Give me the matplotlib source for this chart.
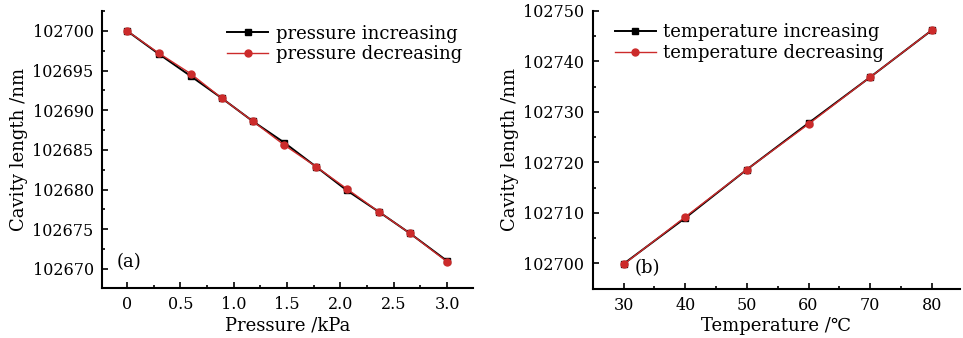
import matplotlib
matplotlib.use("Agg")
import matplotlib.pyplot as plt
from matplotlib.ticker import MultipleLocator, FormatStrFormatter

plt.rcParams['font.family'] = ['DejaVu Serif', 'DejaVu Sans']

# (a) pressure
pressure = [0, 0.297, 0.597, 0.89, 1.18, 1.475, 1.77, 2.06, 2.36, 2.65, 3.0]
p_increasing = [102700.0, 102697.1, 102694.3, 102691.5, 102688.6, 102685.9,
                102682.9, 102679.9, 102677.2, 102674.5, 102671.0]
p_decreasing = [102700.0, 102697.2, 102694.6, 102691.5, 102688.6, 102685.6,
                102682.9, 102680.1, 102677.2, 102674.5, 102670.9]

# (b) temperature
temperature = [30, 40, 50, 60, 70, 80]
t_increasing = [102699.9, 102709.0, 102718.6, 102727.8, 102736.9, 102746.2]
t_decreasing = [102699.8, 102709.2, 102718.6, 102727.6, 102736.9, 102746.2]

fig = plt.figure(figsize=(9.63, 3.38), dpi=100)
ax1 = fig.add_axes([0.1059, 0.148, 0.385, 0.8195])
ax2 = fig.add_axes([0.6155, 0.146, 0.381, 0.8215])

red = '#cc2b2b'
tfs = 11.5
lfs = 13
labfs = 13

def style(ax):
    for s in ['top', 'right']:
        ax.spines[s].set_visible(False)
    for s in ['left', 'bottom']:
        ax.spines[s].set_linewidth(1.5)
    ax.tick_params(which='both', direction='in', labelsize=tfs, width=1.2)
    ax.tick_params(which='major', length=4)
    ax.tick_params(which='minor', length=2.5)
    ax.tick_params(axis='y', pad=6)
    ax.tick_params(axis='x', pad=6)

ax1.plot(pressure, p_increasing, color='black', marker='s', ms=4.5, lw=1.4,
         label='pressure increasing')
ax1.plot(pressure, p_decreasing, color=red, marker='o', ms=5, lw=1.0,
         label='pressure decreasing')
ax1.set_xlim(-0.234, 3.24)
ax1.set_ylim(102667.6, 102702.5)
ax1.xaxis.set_minor_locator(MultipleLocator(0.25))
ax1.yaxis.set_major_locator(MultipleLocator(5))
ax1.yaxis.set_minor_locator(MultipleLocator(2.5))
ax1.set_xticks([0, 0.5, 1.0, 1.5, 2.0, 2.5, 3.0])
ax1.set_xticklabels(['0', '0.5', '1.0', '1.5', '2.0', '2.5', '3.0'])
ax1.yaxis.set_major_formatter(FormatStrFormatter('%d'))
ax1.set_xlabel('Pressure /kPa', fontsize=labfs, labelpad=2)
ax1.set_ylabel('Cavity length /nm', fontsize=labfs, labelpad=3)
style(ax1)
ax1.legend(loc='upper right', frameon=False, fontsize=lfs, handlelength=2.3,
           handletextpad=0.4, labelspacing=0.15, borderaxespad=0.2,
           bbox_to_anchor=(1.0, 0.99))
ax1.text(0.04, 0.095, '(a)', transform=ax1.transAxes, fontsize=lfs, ha='left', va='center')

ax2.plot(temperature, t_increasing, color='black', marker='s', ms=4.5, lw=1.4,
         label='temperature increasing')
ax2.plot(temperature, t_decreasing, color=red, marker='o', ms=5, lw=1.0,
         label='temperature decreasing')
ax2.set_xlim(25, 84.5)
ax2.set_ylim(102695, 102750)
ax2.xaxis.set_major_locator(MultipleLocator(10))
ax2.xaxis.set_minor_locator(MultipleLocator(5))
ax2.yaxis.set_major_locator(MultipleLocator(10))
ax2.yaxis.set_minor_locator(MultipleLocator(5))
ax2.yaxis.set_major_formatter(FormatStrFormatter('%d'))
ax2.set_xlabel('Temperature /\u2103', fontsize=labfs, labelpad=2)
ax2.set_ylabel('Cavity length /nm', fontsize=labfs, labelpad=3)
style(ax2)
ax2.legend(loc='upper left', frameon=False, fontsize=lfs, handlelength=2.3,
           handletextpad=0.4, labelspacing=0.15, borderaxespad=0.2,
           bbox_to_anchor=(0.03, 0.995))
ax2.text(0.115, 0.075, '(b)', transform=ax2.transAxes, fontsize=lfs, ha='left', va='center')

fig.savefig('out.png', dpi=100)
